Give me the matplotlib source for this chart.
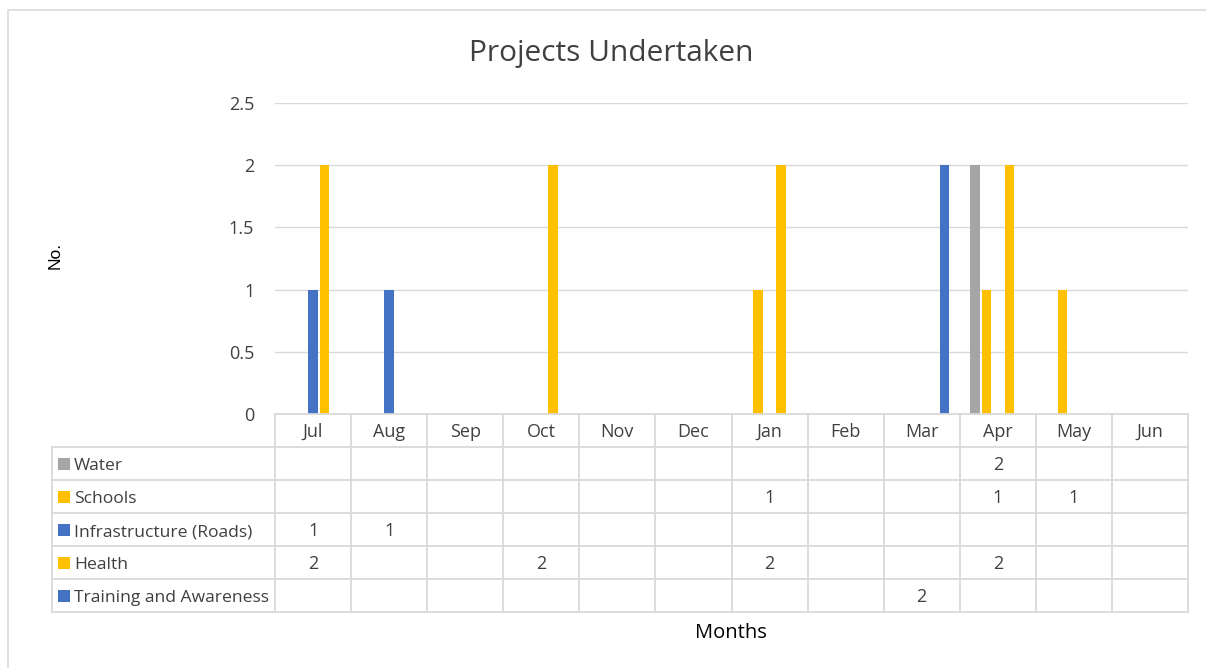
import matplotlib
matplotlib.use("Agg")
import matplotlib.pyplot as plt
from matplotlib.patches import Rectangle
import numpy as np

# ---------------- data ----------------
months = ["Jul", "Aug", "Sep", "Oct", "Nov", "Dec", "Jan", "Feb", "Mar", "Apr", "May", "Jun"]
series_names = ["Water", "Schools", "Infrastructure (Roads)", "Health", "Training and Awareness"]
nan = np.nan
water = [nan, nan, nan, nan, nan, nan, nan, nan, nan, 2, nan, nan]
schools = [nan, nan, nan, nan, nan, nan, 1, nan, nan, 1, 1, nan]
infrastructure = [1, 1, nan, nan, nan, nan, nan, nan, nan, nan, nan, nan]
health = [2, nan, nan, 2, nan, nan, 2, nan, nan, 2, nan, nan]
training = [nan, nan, nan, nan, nan, nan, nan, nan, 2, nan, nan, nan]
series_values = [water, schools, infrastructure, health, training]
series_colors = ["#A5A5A5", "#FFC000", "#4472C4", "#FFC000", "#4472C4"]
y_ticks = [0, 0.5, 1, 1.5, 2, 2.5]
y_ticklabels = ["0", "0.5", "1", "1.5", "2", "2.5"]

# ---------------- figure ----------------
W, H = 1206, 668
fig = plt.figure(figsize=(W / 100, H / 100), dpi=100)
FONT = "Open Sans"
TXT = "#404040"
GRID = "#D9D9D9"
FS = 13
FS_LAB = 12.6

# outer chart border (right/bottom edges fall outside the picture)
fig.patches.append(Rectangle((8 / W, -0.1), 1.2, 1 - 10 / H + 0.1,
                             transform=fig.transFigure, fill=False,
                             edgecolor=GRID, lw=1.2))

left, right, top, bottom = 275, 1188, 103, 414
ax = fig.add_axes([left / W, 1 - bottom / H, (right - left) / W, (bottom - top) / H])
ax.set_xlim(-0.5, len(months) - 0.5)
ax.set_ylim(0, 2.5)
for s in ax.spines.values():
    s.set_visible(False)
ax.set_xticks([])
ax.set_yticks(y_ticks)
ax.set_yticklabels(y_ticklabels, fontfamily=FONT, fontsize=FS, color=TXT)
ax.tick_params(axis="y", length=0, pad=15)
for yv in y_ticks[1:]:
    ax.axhline(yv, color=GRID, lw=1.0, zorder=0)

# bars
x = np.arange(len(months))
step = 0.151
bw = 0.125
n = len(series_names)
for i, (vals, col) in enumerate(zip(series_values, series_colors)):
    ax.bar(x + (i - (n - 1) / 2) * step, vals, width=bw, color=col, zorder=2)

# ---------------- data table ----------------
ph = bottom - top
pxu = (right - left) / len(months)          # pixels per category
rh = 33 / ph                                # row height in axes fraction
base_off = 6.6 / ph                         # half cap height -> baseline offset
trans = ax.get_xaxis_transform()
x_left = -0.5 - (left - 52) / pxu            # left edge of label column
x_end = len(months) - 0.5
lw_t = 1.3
# horizontal lines
ax.plot([-0.5, x_end], [0, 0], transform=trans, color=GRID, lw=lw_t, clip_on=False)
for r in range(1, n + 2):
    ax.plot([x_left, x_end], [-r * rh, -r * rh], transform=trans, color=GRID,
            lw=lw_t, clip_on=False)
# vertical lines
for j in range(len(months) + 1):
    ax.plot([j - 0.5, j - 0.5], [0, -(n + 1) * rh], transform=trans, color=GRID,
            lw=lw_t, clip_on=False)
ax.plot([x_left, x_left], [-rh, -(n + 1) * rh], transform=trans, color=GRID,
        lw=lw_t, clip_on=False)

# header labels
for j, m in enumerate(months):
    ax.text(j, -0.5 * rh - base_off, m, transform=trans, ha="center", va="baseline",
            fontfamily=FONT, fontsize=FS, color=TXT, clip_on=False)

# rows
key_x = -0.5 - (left - 58) / pxu
key_w = 12 / pxu
key_h = 12 / ph
txt_x = -0.5 - (left - 74) / pxu
for i, (name, vals, col) in enumerate(zip(series_names, series_values, series_colors)):
    yc = -(i + 1.5) * rh
    ax.add_patch(Rectangle((key_x, yc - key_h / 2), key_w, key_h, transform=trans,
                           facecolor=col, edgecolor="none", clip_on=False))
    ax.text(txt_x, yc - base_off, name, transform=trans, ha="left", va="baseline",
            fontfamily=FONT, fontsize=FS_LAB, color=TXT, clip_on=False)
    for j, v in enumerate(vals):
        if not np.isnan(v):
            ax.text(j, yc - base_off, f"{v:g}", transform=trans, ha="center",
                    va="baseline", fontfamily=FONT, fontsize=FS, color=TXT,
                    clip_on=False)

# ---------------- titles ----------------
fig.text(611.5 / W, 1 - 61.5 / H, "Projects Undertaken", ha="center", va="baseline",
         fontfamily=FONT, fontsize=21.5, color=TXT)
fig.text(731 / W, 1 - 638 / H, "Months", ha="center", va="baseline",
         fontfamily=FONT, fontsize=14.5, color="#000000")
fig.text(55 / W, 1 - 255 / H, "No.", ha="center", va="center", rotation=90,
         fontfamily="Liberation Sans", fontsize=12.5, color="#000000")

fig.savefig("out.png", dpi=100, facecolor="white")
